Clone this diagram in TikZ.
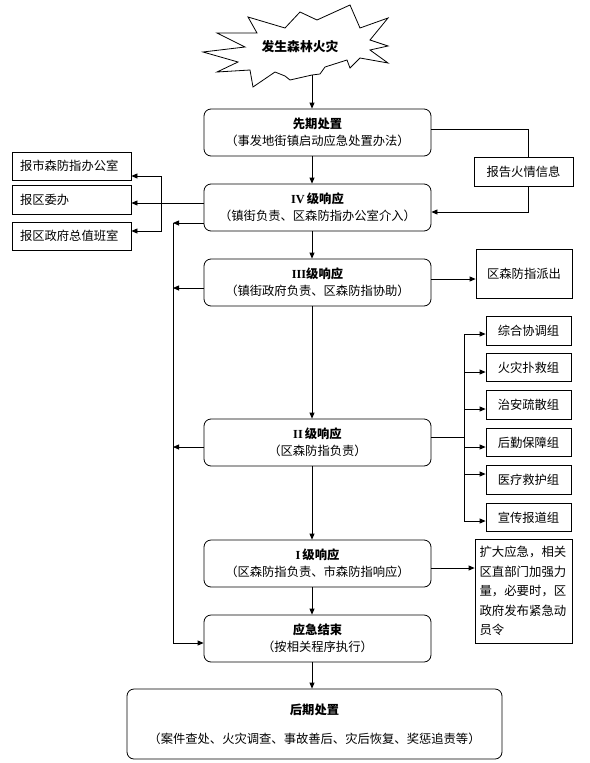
\documentclass[tikz,border=0pt]{standalone}
\usepackage{fontspec}
\setmainfont{Noto Sans CJK SC}
\newfontfamily\romf{Liberation Serif}
\usetikzlibrary{arrows.meta,calc}
\begin{document}
\begin{tikzpicture}[x=1pt,y=-1pt,
 line width=0.8pt,
 arr/.style={-{Triangle[length=6pt,width=5pt]}},
 rbox/.style={draw,rounded corners=7pt,minimum width=227pt,minimum height=47pt,align=center,inner sep=0pt,font=\fontsize{12.3}{17}\selectfont},
 sbox/.style={draw,align=center,inner sep=0pt,font=\fontsize{12.3}{17}\selectfont},
 lbox/.style={draw,text width=103pt,align=left,inner xsep=8pt,inner ysep=0pt,font=\fontsize{12.3}{17}\selectfont},
 gbox/.style={sbox,minimum width=85pt,minimum height=28.5pt},
]
\useasboundingbox (0,0) rectangle (589,763);

% starburst
\draw (203,52) -- (245,47) -- (217,33) -- (257,33) -- (248,17) -- (285,28) -- (300,12) -- (317,20) -- (350,5) -- (360,28) -- (388,18) -- (370,40) -- (388,46) -- (370,50) -- (388,63) -- (360,58) -- (350,68) -- (347,60) -- (325,67) -- (320,74) -- (312,75) -- (290,80) -- (285,76) -- (275,72) -- (253,87) -- (250,70) -- (217,72) -- (238,62) -- cycle;
\node[font=\bfseries\fontsize{12.8}{14}\selectfont] (fire) at (300,47) {发生森林火灾};
\coordinate (sb) at (312,75);

% main column
\node[rbox] (b1) at (317.5,132.5) {\textbf{先期处置}\\（事发地街镇启动应急处置办法）};
\node[rbox] (b4) at (317.5,207.5) {\textbf{{\romf IV}\,级响应}\\（镇街负责、区森防指办公室介入）};
\node[rbox] (b3) at (317.5,282.5) {\textbf{{\romf III}级响应}\\（镇街政府负责、区森防指协助）};
\node[rbox] (b2) at (317.5,442.5) {\textbf{{\romf II}\,级响应}\\（区森防指负责）};
\node[rbox] (bI) at (317.5,563.5) {\textbf{{\romf I}\,级响应}\\（区森防指负责、市森防指响应）};
\node[rbox] (bend) at (317.5,638.5) {\textbf{应急结束}\\（按相关程序执行）};
\node[rbox,minimum width=375pt,minimum height=70pt] (post) at (314.5,724) {\textbf{后期处置}\\[12pt]（案件查处、火灾调查、事故善后、灾后恢复、奖惩追责等）};

% side boxes
\node[sbox,minimum width=99pt,minimum height=29pt] (report) at (523.5,171.5) {报告火情信息};
\node[lbox,minimum height=28pt] (l1) at (71.5,166) {报市森防指办公室};
\node[lbox,minimum height=29pt] (l2) at (71.5,199.5) {报区委办};
\node[lbox,minimum height=28pt] (l3) at (71.5,236) {报区政府总值班室};
\node[sbox,minimum width=96pt,minimum height=49pt] (disp) at (524,273.5) {区森防指派出};
\node[gbox] (g1) at (528.5,331) {综合协调组};
\node[gbox] (g2) at (528.5,367.5) {火灾扑救组};
\node[gbox] (g3) at (528.5,405) {治安疏散组};
\node[gbox] (g4) at (528.5,442.5) {后勤保障组};
\node[gbox] (g5) at (528.5,480) {医疗救护组};
\node[gbox] (g6) at (528.5,517.5) {宣传报道组};
\node[draw,text width=88pt,align=left,inner xsep=4.5pt,inner ysep=0pt,minimum height=104pt,font=\fontsize{12.4}{19.5}\selectfont] (expand) at (523.5,591) {扩大应急，相关\\区直部门加强力\\量，必要时，区\\政府发布紧急动\\员令};

% vertical flow
\coordinate (ax) at (312,0);
\draw[arr] (sb) -- (b1.north -| ax);
\draw[arr] (b1.south -| ax) -- (b4.north -| ax);
\draw[arr] (b4.south -| ax) -- (b3.north -| ax);
\draw[arr] (b3.south -| ax) -- (b2.north -| ax);
\draw[arr] (b2.south -| ax) -- (bI.north -| ax);
\draw[arr] (bI.south -| ax) -- (bend.north -| ax);
\draw[arr] (bend.south -| ax) -- (post.north -| ax);

% report loop
\coordinate (rx) at (528,0);
\draw ($(b1.east)+(0,-3.5)$) -| (report.north -| rx);
\draw[arr] (report.south -| rx) |- ($(b4.east)+(0,4.5)$);

% left reports
\coordinate (j) at (161,0);
\coordinate (c4l) at ($(b4.west)+(0,-4.5)$);
\coordinate (k1) at ($(l1.east)+(0,10)$);
\coordinate (k3) at ($(l3.east)+(0,-5)$);
\draw[arr] (c4l) -- (c4l -| l2.east);
\draw[arr] (c4l -| j) |- (k1);
\draw[arr] (c4l -| j) |- (k3);

% collector
\coordinate (cx) at (173,0);
\coordinate (c4) at ($(b4.west)+(0,15.5)$);
\coordinate (c3) at ($(b3.west)+(0,5.5)$);
\coordinate (c2) at ($(b2.west)+(0,4.5)$);
\coordinate (ce) at ($(bend.west)+(0,4.5)$);
\draw[arr] (c4) -- (c4 -| cx);
\draw[arr] (c3) -- (c3 -| cx);
\draw[arr] (c2) -- (c2 -| cx);
\draw[arr] (c4 -| cx) -- (ce -| cx) -- (ce);

% III right
\coordinate (r3) at ($(b3.east)+(0,-3.5)$);
\draw[arr] (r3) -- (r3 -| disp.west);

% II groups
\coordinate (gx) at (464,0);
\coordinate (r2) at ($(b2.east)+(0,-5.5)$);
\draw (r2) -- (r2 -| gx);
\foreach \g/\d in {g1/3,g2/4.5,g3/4,g4/4.5,g5/-6,g6/3.5}{
  \coordinate (p\g) at ($(\g.west)+(0,\d)$);
  \draw[arr] (p\g -| gx) -- (p\g);
}
\draw (pg1 -| gx) -- (pg6 -| gx);

% I right
\coordinate (r1) at ($(bI.east)+(0,4.5)$);
\draw[arr] (r1) -- (r1 -| expand.west);
\end{tikzpicture}
\end{document}
